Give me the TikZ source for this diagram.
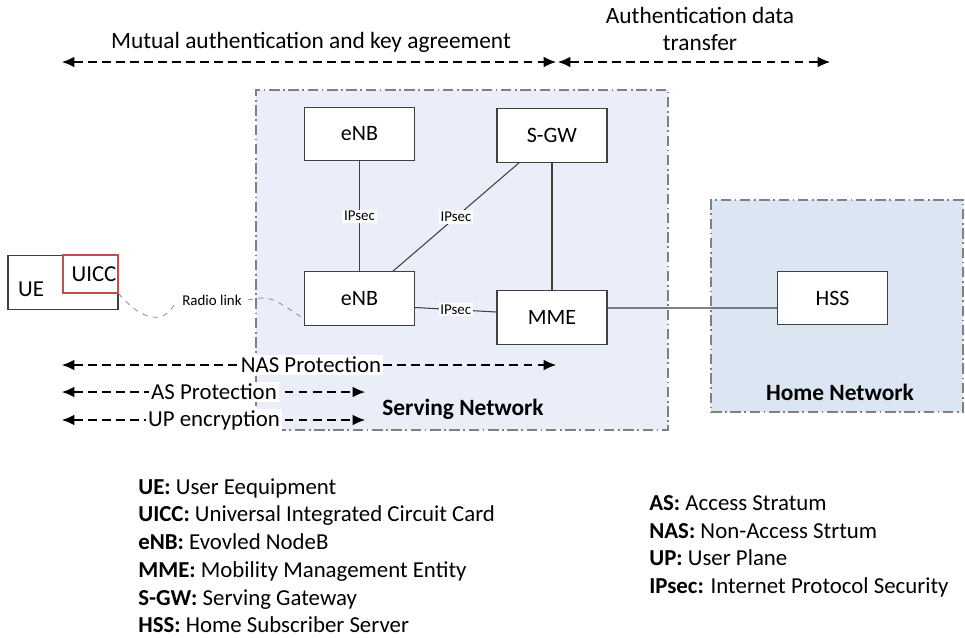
\documentclass[tikz,border=0pt]{standalone}
\usepackage{fontspec}
\setmainfont{Carlito}
\usetikzlibrary{arrows.meta}
\definecolor{servfill}{HTML}{E9EEF8}
\definecolor{homefill}{HTML}{DCE6F2}
\definecolor{uiccred}{HTML}{C0504D}
\definecolor{linegray}{HTML}{404040}

\begin{document}
\begin{tikzpicture}[x=0.02cm, y=-0.02cm,
    box/.style={draw=linegray, line width=0.7pt, fill=white, minimum width=2.2cm, minimum height=1.07cm, font=\fontsize{12.5}{14}\selectfont},
    netbox/.style={draw=gray, line width=0.8pt, dash pattern=on 6pt off 2pt on 1pt off 2pt},
    link/.style={draw=linegray, line width=0.6pt},
    ipsec/.style={fill=white, inner sep=1pt, font=\fontsize{8.5}{9}\selectfont},
    span/.style={dash pattern=on 5pt off 3pt, line width=0.6pt, {Latex[length=7pt,width=6pt]}-{Latex[length=7pt,width=6pt]}},
    lbl/.style={fill=white, inner sep=1pt, font=\fontsize{13}{15}\selectfont},
    legend/.style={anchor=north west, align=left, inner sep=0pt, font=\fontsize{13}{15.8}\selectfont}]
    \useasboundingbox (0,0) rectangle (965,637);

    % network areas
    \node[netbox, fill=servfill, minimum width=8.24cm, minimum height=6.8cm] (serving) at (462,260) {};
    \node[netbox, fill=homefill, minimum width=5.04cm, minimum height=4.24cm] (home) at (837,306) {};
    \node[font=\fontsize{13.3}{15}\selectfont\bfseries] (servlbl) at (463,409) {Serving Network};
    \node[font=\fontsize{13.3}{15}\selectfont\bfseries] (homelbl) at (840,392) {Home Network};

    % entities
    \node[box] (enb1) at (359.5,134) {eNB};
    \node[box] (sgw) at (552,135.5) {S-GW};
    \node[box] (enb2) at (359.5,298.5) {eNB};
    \node[box] (mme) at (552,317.5) {MME};
    \node[box] (hss) at (832.5,298) {HSS};
    \node[box] (ue) at (63,282.5) {};
    \node[draw=uiccred, line width=0.6pt, minimum width=1.1cm, minimum height=0.76cm] (uicc) at (90.5,274) {};
    \node[font=\fontsize{13}{15}\selectfont] (uetxt) at (31,289) {UE};
    \node[font=\fontsize{13}{15}\selectfont] (uicctxt) at (94,274) {UICC};

    \draw[link] (enb1) -- node[ipsec] {IPsec} (enb2);
    \draw[link] ([xshift=0.67cm]enb2.north) -- node[ipsec] {IPsec} ([xshift=-0.66cm]sgw.south);
    \draw[link] (sgw) -- (mme);
    \draw[link] ([yshift=-0.18cm]enb2.east) -- node[ipsec] {IPsec} ([yshift=0.11cm]mme.west);
    \draw[link] ([yshift=0.19cm]mme.east) -- ([yshift=-0.2cm]hss.west);

    % radio link
    \node[font=\fontsize{8.5}{9}\selectfont] (radio) at (212,300) {Radio link};
    \draw[gray, dashed, line width=0.4pt] (uicc.south east) .. controls (150,330) and (170,318) .. (radio.west);
    \draw[gray, dashed, line width=0.4pt] (radio.east) .. controls (270,296) .. ([yshift=0.14cm]enb2.south west);

    % spans
    \coordinate (mL) at (62,62);
    \coordinate (mR) at (556,62);
    \coordinate (aL) at (558,62);
    \coordinate (aR) at (830,62);
    \draw[span] (mL) -- (mR);
    \draw[span] (aL) -- (aR);
    \node[font=\fontsize{13.3}{15}\selectfont] (mutual) at (311,42) {Mutual authentication and key agreement};
    \node[font=\fontsize{13.3}{15.5}\selectfont, align=center] (authdata) at (700,29) {Authentication data\\transfer};

    \coordinate (nL) at (62,365);
    \coordinate (nR) at (556,365);
    \coordinate (asL) at (62,392);
    \coordinate (asR) at (365,392);
    \coordinate (upL) at (62,420);
    \coordinate (upR) at (365,420);
    \draw[span] (nL) -- (nR);
    \draw[span] (asL) -- (asR);
    \draw[span] (upL) -- (upR);
    \node[lbl] (nas) at (311,365) {NAS Protection};
    \node[lbl] (as) at (214,392) {AS Protection};
    \node[lbl] (up) at (214,420) {UP encryption};

    % legend
    \node[legend] (legleft) at (138,478) {%
      \textbf{UE:} User Eequipment\\
      \textbf{UICC:} Universal Integrated Circuit Card\\
      \textbf{eNB:} Evovled NodeB\\
      \textbf{MME:} Mobility Management Entity\\
      \textbf{S-GW:} Serving Gateway\\
      \textbf{HSS:} Home Subscriber Server};
    \node[legend] (legright) at (649,495) {%
      \textbf{AS:} Access Stratum\\
      \textbf{NAS:} Non-Access Strtum\\
      \textbf{UP:} User Plane\\
      \textbf{IPsec:} Internet Protocol Security};
\end{tikzpicture}
\end{document}
